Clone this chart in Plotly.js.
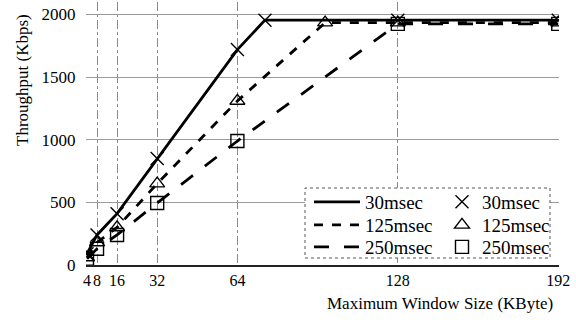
<!DOCTYPE html>
<html>
<head>
<meta charset="utf-8">
<script src="https://cdn.plot.ly/plotly-3.0.1.min.js"></script>
<style>html,body{margin:0;padding:0;background:#fff}#chart{width:576px;height:322px}</style>
</head>
<body>
<div id="chart"></div>
<script>
// Data
const names = ["30msec", "125msec", "250msec"];
const x30 = [4, 8, 16, 32, 64, 75, 128, 192];
const y30 = [90, 240, 410, 850, 1720, 1955, 1955, 1955];
const x125 = [4, 8, 16, 32, 64, 99, 128, 192];
const y125 = [60, 180, 300, 650, 1310, 1935, 1935, 1935];
const x250 = [4, 8, 16, 32, 64, 128, 192];
const y250 = [50, 130, 240, 495, 990, 1925, 1925];
const xTicks = [4, 8, 16, 32, 64, 128, 192];
const xTickText = ["4", "8", "16", "32", "64", "128", "192"];
const yTicks = [0, 500, 1000, 1500, 2000];

const font = "Liberation Serif, Times New Roman, serif";
const dashes = ["solid", "dash", "longdash"];
const symbols = ["x-thin-open", "triangle-up-open", "square-open"];
const xs = [x30, x125, x250];
const ys = [y30, y125, y250];

const L = 86, R = 17, T = 2, B = 57, W = 576, H = 322;
const pw = W - L - R, ph = H - T - B;
const px2x = p => (p - L) / pw;
const py2y = p => (H - B - p) / ph;

const rowTop = [183, 206, 228];
const legendFont = {family: font, size: 19, color: "#000"};

const traces = [];
const layout = {
  width: W, height: H,
  margin: {l: L, r: R, t: T, b: B, pad: 0},
  paper_bgcolor: "#fff", plot_bgcolor: "#fff",
  font: {family: font, size: 17, color: "#000"},
  showlegend: true,
  xaxis: {
    range: [3.6, 192.3], tickvals: xTicks, ticktext: xTickText, tickangle: 0,
    showgrid: true, gridcolor: "#8a8a8a", gridwidth: 1, griddash: "dashdot",
    zeroline: false, showline: true, linecolor: "#222", linewidth: 1.5, mirror: false,
    ticks: "",
    tickfont: {family: font, size: 16, color: "#000"}
  },
  yaxis: {
    range: [0, 2100], tickvals: yTicks,
    showgrid: true, gridcolor: "#9a9a9a", gridwidth: 1,
    zeroline: false, showline: false,
    ticks: "outside", ticklen: 6, tickcolor: "rgba(0,0,0,0)",
    tickfont: {family: font, size: 17, color: "#000"}
  },
  shapes: [{
    type: "rect", xref: "paper", yref: "paper",
    x0: px2x(305), x1: px2x(550), y0: py2y(258), y1: py2y(188),
    line: {color: "#555", width: 1, dash: "dot"}, fillcolor: "#fff", layer: "above"
  }],
  annotations: [
    {text: "Maximum Window Size (KByte)", xref: "paper", yref: "paper",
     x: px2x(440), y: py2y(303), xanchor: "center", yanchor: "middle", showarrow: false,
     font: {family: font, size: 17, color: "#000"}},
    {text: "Throughput (Kbps)", xref: "paper", yref: "paper", textangle: -90,
     x: px2x(22), y: py2y(80), xanchor: "center", yanchor: "middle", showarrow: false,
     font: {family: font, size: 17, color: "#000"}}
  ]
};

for (let i = 0; i < 3; i++) {
  const key = i === 0 ? "legend" : "legend" + (i + 1);
  traces.push({
    x: xs[i], y: ys[i], mode: "lines", name: names[i], legend: key,
    line: {color: "#000", width: 2.8, dash: dashes[i]}, hoverinfo: "skip"
  });
  layout[key] = {
    x: px2x(309), y: py2y(rowTop[i]), xanchor: "left", yanchor: "top",
    bgcolor: "rgba(0,0,0,0)", borderwidth: 0, font: legendFont, itemwidth: 46
  };
}
for (let i = 0; i < 3; i++) {
  const key = "legend" + (i + 4);
  traces.push({
    x: xs[i], y: ys[i], mode: "markers", name: names[i], legend: key,
    marker: {color: "#000", symbol: symbols[i], size: 13, line: {color: "#000", width: 1.4}},
    hoverinfo: "skip"
  });
  layout[key] = {
    x: px2x(442), y: py2y(rowTop[i]), xanchor: "left", yanchor: "top",
    bgcolor: "rgba(0,0,0,0)", borderwidth: 0, font: legendFont, itemwidth: 30
  };
}

Plotly.newPlot("chart", traces, layout, {staticPlot: true, displayModeBar: false});
</script>
</body>
</html>
